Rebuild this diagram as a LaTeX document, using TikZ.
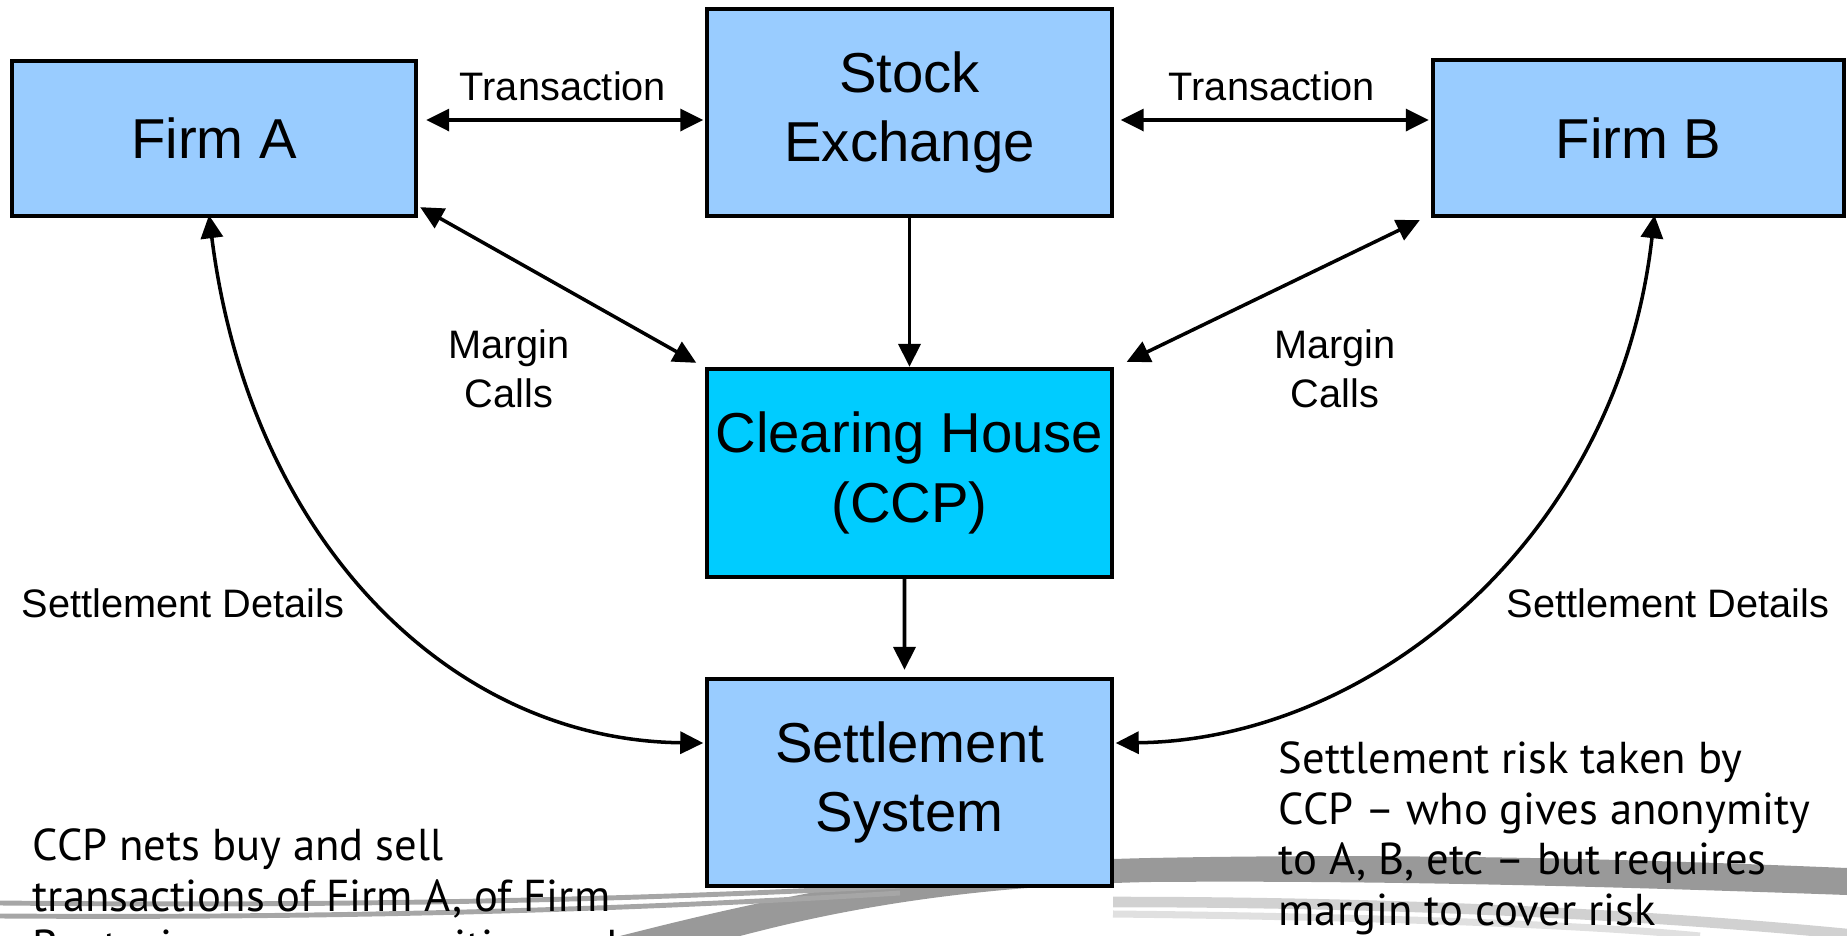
\documentclass[tikz,border=0pt]{standalone}
\usepackage{fontspec}
\setmainfont{Liberation Sans}
\newfontfamily\notefont{PT Sans}
\usetikzlibrary{arrows.meta}

\definecolor{boxblue}{HTML}{99CCFF}
\definecolor{ccpblue}{HTML}{00CCFF}

\tikzset{
  box/.style={draw=black, line width=1.2pt, fill=boxblue, minimum width=4.04cm,
    inner sep=0pt, align=center, font=\fontsize{16}{19.8}\selectfont},
  lbl/.style={inner sep=0pt, align=center, font=\fontsize{11.3}{14}\selectfont},
  note/.style={inner sep=0pt, align=left, font=\notefont\fontsize{12.7}{14.4}\selectfont},
  tip/.tip={Triangle[length=0.23cm,width=0.22cm]},
  conn/.style={line width=1pt, -tip},
  dconn/.style={line width=1pt, tip-tip},
  swoosh/.style={draw=none, fill=black!40},
  thinline/.style={draw=black!35, line width=0.7pt}
}

\begin{document}
\begin{tikzpicture}[x=0.01cm, y=-0.01cm]
  \useasboundingbox (0,0) rectangle (1847,936);

  % decorative grey swoosh along the lower edge
  \path[swoosh] (620,936) .. controls (800,890) and (950,862) .. (1150,858)
     .. controls (1450,852) and (1700,862) .. (1847,868) -- (1847,895)
     .. controls (1650,888) and (1400,880) .. (1150,882)
     .. controls (950,886) and (820,915) .. (740,936) -- cycle;
  \draw[thinline, line width=1.4pt] (0,903) .. controls (300,906) and (600,902) .. (900,886);
  \draw[thinline, line width=1.4pt] (0,916) .. controls (300,918) and (600,912) .. (900,893);
  \draw[draw=black!18, line width=3pt] (1113,902) .. controls (1400,902) and (1650,915) .. (1847,934);
  \draw[draw=black!12, line width=2pt] (1113,914) .. controls (1400,917) and (1600,926) .. (1700,936);

  % boxes
  \node[box, minimum height=1.55cm] (fa) at (214,138.5) {Firm A};
  \node[box, minimum height=2.07cm] (se) at (909.5,112.5) {Stock\\Exchange};
  \node[box, minimum height=1.56cm, minimum width=4.11cm] (fb) at (1638.5,138) {Firm B};
  \node[box, fill=ccpblue, minimum height=2.08cm] (ccp) at (909.5,473) {Clearing House\\(CCP)};
  \node[box, minimum height=2.07cm] (ss) at (909.5,782.5) {Settlement\\System};

  % connectors
  \draw[dconn] ([shift={(8,-18.5)}]fa.east) -- ([shift={(-2,7.5)}]se.west);
  \draw[dconn] ([shift={(7,7.5)}]se.east) -- ([shift={(-2,-18)}]fb.west);
  \draw[conn] (se.south) -- (ccp.north);
  \draw[conn] ([xshift=-0.05cm]ccp.south) -- ([shift={(-5,-7)}]ss.north);
  \draw[dconn] ([shift={(2,-11)}]fa.south east) -- ([shift={(-9,-4)}]ccp.north west);
  \draw[dconn] ([shift={(-11,2)}]fb.south west) -- ([shift={(13,-5)}]ccp.north east);
  \draw[dconn] ([shift={(-5,-3)}]fa.south) .. controls (250,540) and (450,740) .. ([shift={(-2,-39.5)}]ss.west);
  \draw[dconn] ([shift={(16,-3)}]fb.south) .. controls (1618,540) and (1370,740) .. ([shift={(2,-39.5)}]ss.east);

  % connector labels
  \node[lbl] (t1) at (563,86) {Transaction};
  \node[lbl] (t2) at (1272,86) {Transaction};
  \node[lbl] (m1) at (509,369) {Margin\\Calls};
  \node[lbl] (m2) at (1335,369) {Margin\\Calls};
  \node[lbl] (s1) at (183,603) {Settlement Details};
  \node[lbl] (s2) at (1668,603) {Settlement Details};

  % notes
  \node[note, anchor=north west] (nr) at (1278,741)
    {Settlement risk taken by\\CCP – who gives anonymity\\to A, B, etc – but requires\\margin to cover risk};
  \node[note, anchor=north west] (nl) at (32,828)
    {CCP nets buy and sell\\transactions of Firm A, of Firm\\B, etc, in money, securities and};
\end{tikzpicture}
\end{document}
